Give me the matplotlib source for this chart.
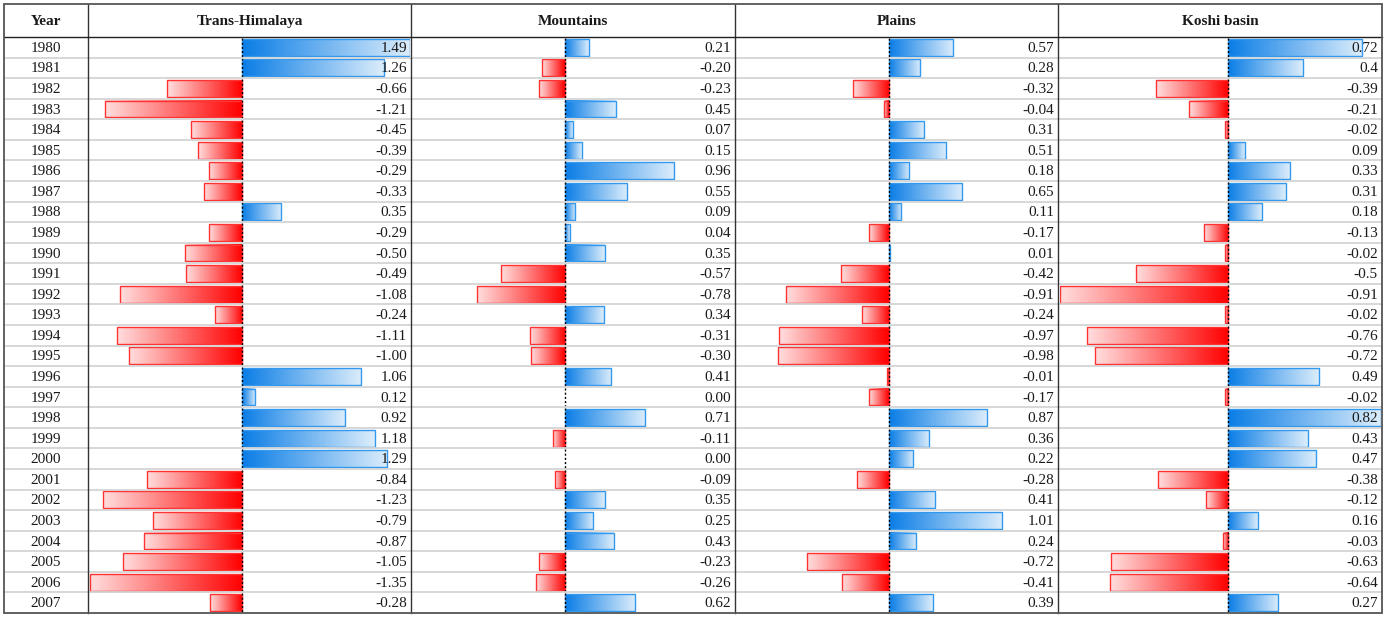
import matplotlib
matplotlib.use('Agg')
import matplotlib.pyplot as plt
import numpy as np
from matplotlib.colors import LinearSegmentedColormap
from matplotlib.patches import Rectangle

years = list(range(1980, 2008))
headers = ['Year', 'Trans-Himalaya', 'Mountains', 'Plains', 'Koshi basin']

trans_himalaya = [1.49, 1.26, -0.66, -1.21, -0.45, -0.39, -0.29, -0.33, 0.35, -0.29,
                  -0.50, -0.49, -1.08, -0.24, -1.11, -1.00, 1.06, 0.12, 0.92, 1.18,
                  1.29, -0.84, -1.23, -0.79, -0.87, -1.05, -1.35, -0.28]
mountains = [0.21, -0.20, -0.23, 0.45, 0.07, 0.15, 0.96, 0.55, 0.09, 0.04,
             0.35, -0.57, -0.78, 0.34, -0.31, -0.30, 0.41, 0.00, 0.71, -0.11,
             0.00, -0.09, 0.35, 0.25, 0.43, -0.23, -0.26, 0.62]
plains = [0.57, 0.28, -0.32, -0.04, 0.31, 0.51, 0.18, 0.65, 0.11, -0.17,
          0.01, -0.42, -0.91, -0.24, -0.97, -0.98, -0.01, -0.17, 0.87, 0.36,
          0.22, -0.28, 0.41, 1.01, 0.24, -0.72, -0.41, 0.39]
koshi = [0.72, 0.4, -0.39, -0.21, -0.02, 0.09, 0.33, 0.31, 0.18, -0.13,
         -0.02, -0.5, -0.91, -0.02, -0.76, -0.72, 0.49, -0.02, 0.82, 0.43,
         0.47, -0.38, -0.12, 0.16, -0.03, -0.63, -0.64, 0.27]

# first three columns share one data-bar scale, koshi has its own
columns = [trans_himalaya, mountains, plains, koshi]
fmts = ['{:.2f}', '{:.2f}', '{:.2f}', '{:g}']
shared = trans_himalaya + mountains + plains
ranges = [(min(shared), max(shared))] * 3 + [(min(koshi), max(koshi))]

W, H = 1388, 618
col_edges = [4, 88, 411, 735, 1058, 1382]
top, head_bot, bottom = 4, 37, 613
n = len(years)
row_h = (bottom - head_bot) / n

plt.rcParams['font.family'] = ['Liberation Serif', 'DejaVu Serif']
fs = 11
txt_col = '#1a1a1a'

fig = plt.figure(figsize=(W / 100, H / 100), dpi=100)
ax0 = fig.add_axes([0, 0, 1, 1])
ax0.set_xlim(0, W)
ax0.set_ylim(H, 0)
ax0.axis('off')

# horizontal gridlines
for i in range(1, n):
    y = head_bot + i * row_h
    ax0.plot([col_edges[0], col_edges[-1]], [y, y], color='#d4d4d4', lw=1.3, zorder=1)
# vertical borders
for x in col_edges[1:-1]:
    ax0.plot([x, x], [top, bottom], color='#333333', lw=1.0, zorder=5)
ax0.plot([col_edges[0], col_edges[-1]], [head_bot, head_bot], color='#222222', lw=1.0, zorder=5)
ax0.add_patch(Rectangle((col_edges[0], top), col_edges[-1] - col_edges[0], bottom - top,
                        fill=False, edgecolor='#555555', lw=1.3, zorder=6))

# headers
for j, h in enumerate(headers):
    xc = (col_edges[j] + col_edges[j + 1]) / 2
    ax0.text(xc, (top + head_bot) / 2 + 1, h, ha='center', va='center',
             fontsize=fs, fontweight='bold', color=txt_col, zorder=7)

# years
for i, yr in enumerate(years):
    yc = head_bot + (i + 0.5) * row_h
    ax0.text((col_edges[0] + col_edges[1]) / 2, yc + 1, str(yr), ha='center', va='center',
             fontsize=fs, color=txt_col, zorder=7)

blue_cmap = LinearSegmentedColormap.from_list('b', ['#0a7de6', '#dcedfb'])
red_cmap = LinearSegmentedColormap.from_list('r', ['#ffdede', '#ff0000'])
grad = np.linspace(0, 1, 256).reshape(1, -1)
half = 0.41

for j, (vals, fmt, (vmin, vmax)) in enumerate(zip(columns, fmts, ranges)):
    left, right = col_edges[j + 1], col_edges[j + 2]
    ax = fig.add_axes([(left + 1.5) / W, (H - bottom) / H, (right - left - 3) / W,
                       (bottom - head_bot) / H])
    ax.patch.set_alpha(0)
    ax.axis('off')
    for i, v in enumerate(vals):
        if v > 0:
            ax.imshow(grad, cmap=blue_cmap, aspect='auto', extent=(0, v, i + half, i - half),
                      interpolation='bilinear', zorder=2)
            ax.add_patch(Rectangle((0, i - half), v, 2 * half, fill=False,
                                   edgecolor='#3399ee', lw=1.0, zorder=3))
        elif v < 0:
            ax.imshow(grad, cmap=red_cmap, aspect='auto', extent=(v, 0, i + half, i - half),
                      interpolation='bilinear', zorder=2)
            ax.add_patch(Rectangle((v, i - half), -v, 2 * half, fill=False,
                                   edgecolor='#ff3333', lw=1.0, zorder=3))
    for i in range(n):
        ax.plot([0, 0], [i - half - 0.05, i + half + 0.05], color='black', lw=1.0,
                linestyle=(0, (1.5, 1.5)), zorder=4)
    ax.set_xlim(vmin, vmax)
    ax.set_ylim(n - 0.5, -0.5)

    for i, v in enumerate(vals):
        yc = head_bot + (i + 0.5) * row_h
        ax0.text(right - 4, yc + 1, fmt.format(v), ha='right', va='center',
                 fontsize=fs, color=txt_col, zorder=7)

# keep value text on top of inset axes
ax0.set_zorder(10)
ax0.patch.set_alpha(0)

fig.savefig('out.png', dpi=100, facecolor='white')
